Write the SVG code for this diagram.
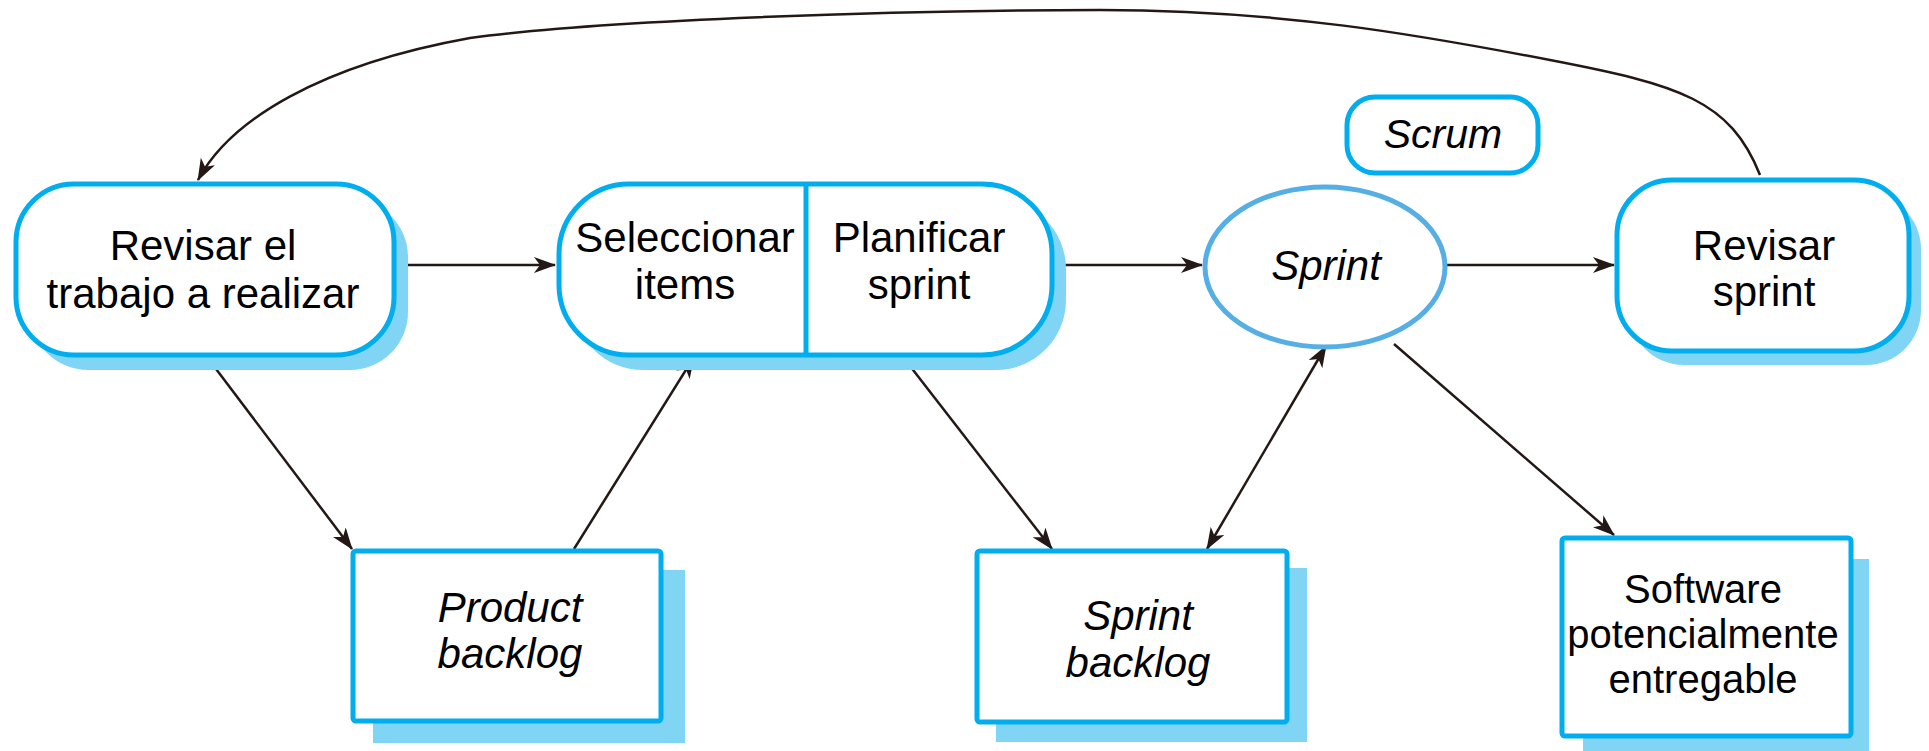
<svg xmlns="http://www.w3.org/2000/svg" width="1929" height="751" viewBox="0 0 1929 751">
<style>
.box{fill:#ffffff;stroke:#00AEEF;stroke-width:5}
.sh{fill:#80D5F5;stroke:none}
.ell{fill:#ffffff;stroke:#55AEE4;stroke-width:5}
.t{font-family:"Liberation Sans",Arial,sans-serif;font-size:42px;fill:#000;text-anchor:middle}
.i{font-style:italic}
.c{fill:none;stroke:#231815;stroke-width:2.5}
</style>
<defs>
<marker id="ah" viewBox="0 0 22 16" refX="21" refY="8" markerWidth="22" markerHeight="16" markerUnits="userSpaceOnUse" orient="auto-start-reverse">
<path d="M0,0 L22,8 L0,16 L6,8 z" fill="#231815"/>
</marker>
</defs>
<rect width="1929" height="751" fill="#ffffff"/>

<g id="connectors">
<path class="c" d="M396,265 L555,265" marker-end="url(#ah)"/>
<path class="c" d="M1054,265 L1202,265" marker-end="url(#ah)"/>
<path class="c" d="M1446,265 L1614,265" marker-end="url(#ah)"/>
<path class="c" d="M1760,175 C1730,100 1680,85 1550,60 C1420,35 1280,10 1100,10 C900,10 600,20 470,38 C320,65 230,120 198,180" marker-end="url(#ah)"/>
<path class="c" d="M207,357 L352,549" marker-end="url(#ah)"/>
<path class="c" d="M574,549 L694,357" marker-end="url(#ah)"/>
<path class="c" d="M903,357 L1052,549" marker-end="url(#ah)"/>
<path class="c" d="M1326,346 L1207,549" marker-start="url(#ah)" marker-end="url(#ah)"/>
<path class="c" d="M1394,344 L1614,535" marker-end="url(#ah)"/>
</g>

<g id="revisar-trabajo">
<rect class="sh" x="30" y="199" width="378" height="171" rx="58"/>
<rect class="box" x="16" y="184" width="378" height="171" rx="58"/>
<text class="t" x="203" y="260">Revisar el</text>
<text class="t" x="203" y="308">trabajo a realizar</text>
</g>

<g id="seleccionar-planificar">
<rect class="sh" x="573" y="199" width="493" height="171" rx="70"/>
<rect class="box" x="559" y="184" width="493" height="171" rx="70"/>
<line x1="806" y1="184" x2="806" y2="355" stroke="#00AEEF" stroke-width="5"/>
<text class="t" x="685" y="252">Seleccionar</text>
<text class="t" x="685" y="299">items</text>
<text class="t" x="919" y="252">Planificar</text>
<text class="t" x="919" y="299">sprint</text>
</g>

<g id="sprint">
<ellipse class="ell" cx="1325" cy="267" rx="120" ry="80"/>
<text class="t i" x="1326" y="280">Sprint</text>
</g>

<g id="revisar-sprint">
<rect class="sh" x="1629" y="194" width="292" height="171" rx="55"/>
<rect class="box" x="1617" y="180" width="292" height="171" rx="55"/>
<text class="t" x="1764" y="260">Revisar</text>
<text class="t" x="1764" y="306">sprint</text>
</g>

<g id="scrum">
<rect class="box" x="1347" y="97" width="191" height="76" rx="28"/>
<text class="t i" x="1443" y="148" style="font-size:41px">Scrum</text>
</g>

<g id="product-backlog">
<rect class="sh" x="373" y="570" width="312" height="173"/>
<rect class="box" x="353" y="551" width="308" height="170" rx="3"/>
<text class="t i" x="510" y="622">Product</text>
<text class="t i" x="510" y="668">backlog</text>
</g>

<g id="sprint-backlog">
<rect class="sh" x="996" y="568" width="311" height="174"/>
<rect class="box" x="977" y="551" width="310" height="171" rx="3"/>
<text class="t i" x="1138" y="630">Sprint</text>
<text class="t i" x="1138" y="677">backlog</text>
</g>

<g id="software">
<rect class="sh" x="1583" y="559" width="286" height="192"/>
<rect class="box" x="1562" y="538" width="289" height="198" rx="3"/>
<text class="t" x="1703" y="603" style="font-size:40px">Software</text>
<text class="t" x="1703" y="648" style="font-size:40px">potencialmente</text>
<text class="t" x="1703" y="693" style="font-size:40px">entregable</text>
</g>
</svg>
